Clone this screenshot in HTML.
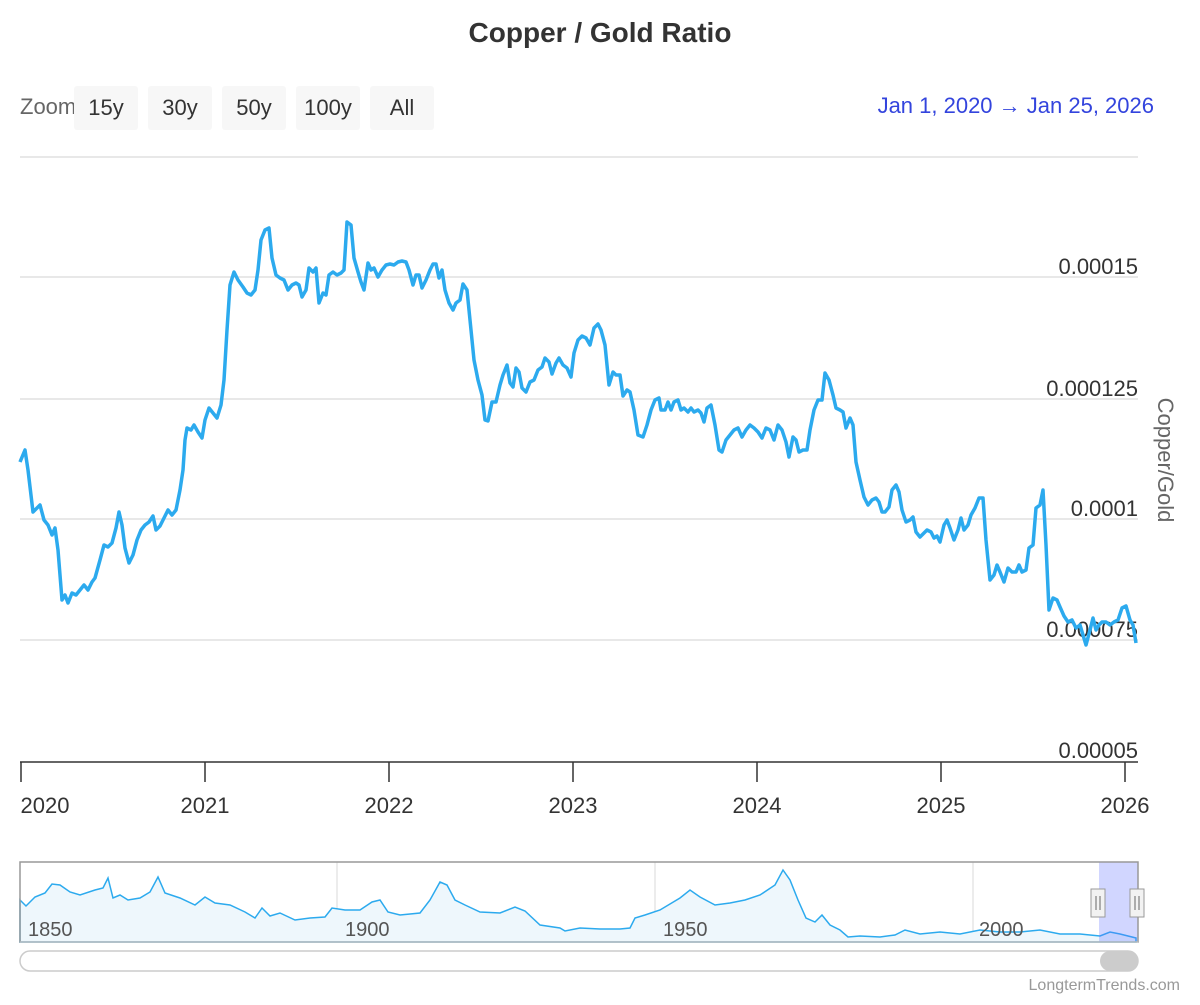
<!DOCTYPE html>
<html><head><meta charset="utf-8"><style>
body{margin:0;background:#fff;width:1200px;height:1000px;overflow:hidden;font-family:"Liberation Sans","DejaVu Sans",sans-serif}
</style></head><body>
<svg width="1200" height="1000" xmlns="http://www.w3.org/2000/svg" font-family="Liberation Sans, DejaVu Sans, sans-serif">
<text x="600" y="42" text-anchor="middle" font-size="28" font-weight="bold" fill="#333">Copper / Gold Ratio</text>
<text x="20" y="114" font-size="22" fill="#666">Zoom</text>
<g font-size="22" fill="#333" text-anchor="middle">
<rect x="74" y="86" width="64" height="44" rx="3" fill="#f7f7f7"/><text x="106" y="115">15y</text>
<rect x="148" y="86" width="64" height="44" rx="3" fill="#f7f7f7"/><text x="180" y="115">30y</text>
<rect x="222" y="86" width="64" height="44" rx="3" fill="#f7f7f7"/><text x="254" y="115">50y</text>
<rect x="296" y="86" width="64" height="44" rx="3" fill="#f7f7f7"/><text x="328" y="115">100y</text>
<rect x="370" y="86" width="64" height="44" rx="3" fill="#f7f7f7"/><text x="402" y="115">All</text>
</g>
<text x="1154" y="113" text-anchor="end" font-size="22" fill="#3344dd">Jan 1, 2020 → Jan 25, 2026</text>
<g stroke="#e0e0e0" stroke-width="1.5">
<line x1="20" y1="157" x2="1138" y2="157"/><line x1="20" y1="277" x2="1138" y2="277"/>
<line x1="20" y1="399" x2="1138" y2="399"/><line x1="20" y1="519" x2="1138" y2="519"/>
<line x1="20" y1="640" x2="1138" y2="640"/></g>
<line x1="20" y1="762" x2="1138" y2="762" stroke="#333" stroke-width="1.5"/>
<g stroke="#333" stroke-width="1.5">
<line x1="21" y1="762" x2="21" y2="782"/><line x1="205" y1="762" x2="205" y2="782"/><line x1="389" y1="762" x2="389" y2="782"/>
<line x1="573" y1="762" x2="573" y2="782"/><line x1="757" y1="762" x2="757" y2="782"/><line x1="941" y1="762" x2="941" y2="782"/><line x1="1125" y1="762" x2="1125" y2="782"/></g>
<g font-size="22" fill="#333" text-anchor="end">
<text x="1138" y="274">0.00015</text><text x="1138" y="396">0.000125</text><text x="1138" y="516">0.0001</text>
<text x="1138" y="637">0.000075</text><text x="1138" y="758">0.00005</text></g>
<g font-size="22" fill="#333" text-anchor="middle">
<text x="45" y="813">2020</text><text x="205" y="813">2021</text><text x="389" y="813">2022</text><text x="573" y="813">2023</text>
<text x="757" y="813">2024</text><text x="941" y="813">2025</text><text x="1125" y="813">2026</text></g>
<text transform="translate(1158,460) rotate(90)" text-anchor="middle" font-size="22" fill="#666">Copper/Gold</text>
<polyline fill="none" stroke="#2caaee" stroke-width="3.5" stroke-linejoin="round" points="20,462 25,450 28,470 33,512 40,505 44,520 48,525 52,535 55,528 58,550 62,600 65,595 68,603 72,593 76,595 80,590 84,585 88,590 92,582 95,578 100,560 104,545 108,547 112,543 116,528 119,512 122,525 125,548 129,563 133,555 137,540 141,530 145,525 149,522 153,516 156,530 160,526 164,518 168,510 172,515 176,510 180,490 183,470 185,440 187,428 191,430 194,425 198,432 202,438 205,420 209,408 213,413 217,418 221,405 224,380 227,330 230,285 234,272 238,280 243,287 247,293 251,295 255,290 258,270 261,240 265,230 269,228 272,258 276,275 280,278 284,280 288,290 292,285 296,283 299,285 302,297 306,290 309,268 313,272 316,268 319,303 323,293 326,295 329,275 333,272 337,275 341,273 344,270 347,222 351,225 354,258 358,272 361,282 364,290 368,263 371,270 374,268 378,277 382,270 386,265 390,264 394,265 398,262 402,261 406,262 409,270 413,285 416,275 419,275 422,288 426,280 430,270 433,264 436,264 439,278 442,270 445,290 449,303 453,310 456,303 460,300 463,284 467,290 470,320 474,360 478,380 482,395 485,420 488,421 492,402 496,402 500,385 503,375 507,365 510,383 513,387 516,368 519,372 522,388 526,392 530,382 534,380 538,370 542,367 545,358 549,362 552,374 556,363 559,358 563,365 567,368 571,377 574,353 578,340 582,336 586,338 590,345 594,328 598,324 601,330 605,345 609,385 613,372 616,375 620,375 623,396 627,390 630,392 634,410 638,435 643,437 647,425 651,410 655,400 659,398 661,410 665,410 668,402 671,410 674,402 678,400 681,410 684,408 688,412 691,408 694,412 698,410 701,413 704,422 707,408 711,405 715,425 719,450 722,452 726,440 730,435 734,430 738,428 742,437 746,430 750,425 754,428 758,432 762,438 766,428 770,430 774,440 778,425 782,430 786,442 789,457 793,437 796,440 799,452 803,450 807,450 810,430 814,410 818,400 822,400 825,373 829,380 833,395 836,408 840,410 843,412 846,428 850,418 853,425 856,462 860,480 864,497 868,505 872,500 876,498 879,502 882,512 885,512 889,507 892,490 896,485 899,492 902,510 906,522 910,520 913,517 916,532 920,537 924,533 927,530 931,532 934,538 937,536 940,542 944,525 947,520 950,528 954,540 958,530 961,518 964,530 968,525 971,515 975,508 979,498 983,498 986,540 990,580 994,575 997,565 1000,572 1004,582 1008,568 1012,572 1016,572 1019,565 1022,572 1026,570 1029,548 1033,545 1036,508 1040,505 1043,490 1046,545 1049,610 1053,598 1057,600 1060,607 1064,616 1068,622 1072,620 1076,628 1080,625 1083,635 1086,645 1090,630 1093,618 1096,630 1099,625 1102,622 1106,622 1110,625 1114,622 1118,620 1122,608 1126,606 1130,620 1133,625 1136,643"/>
<!-- navigator -->
<g stroke="#e6e6e6" stroke-width="1.5"><line x1="337" y1="862" x2="337" y2="942"/><line x1="655" y1="862" x2="655" y2="942"/><line x1="973" y1="862" x2="973" y2="942"/></g>
<path fill="#eef7fc" stroke="#2caaee" stroke-width="1.5" d="M20,900 L26,906 L35,897 L45,893 L52,884 L60,885 L70,892 L80,895 L95,890 L103,888 L108,878 L113,898 L120,895 L128,900 L140,898 L150,892 L158,877 L165,893 L180,898 L195,905 L205,897 L215,903 L230,905 L245,912 L255,918 L262,908 L270,916 L280,913 L295,920 L310,918 L325,917 L332,908 L345,910 L360,910 L372,902 L380,900 L388,912 L400,915 L420,913 L430,900 L440,882 L447,885 L455,900 L465,905 L480,912 L500,913 L515,907 L525,911 L540,925 L560,928 L565,931 L580,928 L600,929 L620,929 L630,928 L635,918 L645,915 L660,910 L680,898 L690,890 L700,897 L715,905 L730,903 L745,900 L760,895 L775,885 L783,870 L790,880 L798,900 L806,918 L815,922 L822,915 L830,925 L840,930 L848,937 L860,936 L880,937 L895,935 L905,930 L920,934 L940,932 L960,934 L980,930 L1000,932 L1020,932 L1040,930 L1060,934 L1080,934 L1100,936 L1110,932 L1120,934 L1136,938 L1136,942 L20,942 Z"/>
<g font-size="20" fill="#555"><text x="28" y="936">1850</text><text x="345" y="936">1900</text><text x="663" y="936">1950</text><text x="979" y="936">2000</text></g>
<rect x="1099" y="862" width="39" height="80" fill="#6677ff" fill-opacity="0.3"/>
<rect x="20" y="862" width="1118" height="80" fill="none" stroke="#999" stroke-width="1.5"/>
<line x1="20" y1="942" x2="1138" y2="942" stroke="#ccc"/>
<rect x="1091" y="889" width="14" height="28" fill="#f2f2f2" stroke="#999"/><line x1="1096" y1="896" x2="1096" y2="910" stroke="#666"/><line x1="1100" y1="896" x2="1100" y2="910" stroke="#666"/>
<rect x="1130" y="889" width="14" height="28" fill="#f2f2f2" stroke="#999"/><line x1="1135" y1="896" x2="1135" y2="910" stroke="#666"/><line x1="1139" y1="896" x2="1139" y2="910" stroke="#666"/>
<rect x="20" y="951" width="1118" height="20" rx="10" fill="#fff" stroke="#ccc" stroke-width="1.5"/>
<rect x="1100" y="951" width="38" height="20" rx="10" fill="#ccc"/>
<text x="1180" y="990" text-anchor="end" font-size="16" fill="#999">LongtermTrends.com</text>
</svg>
</body></html>
